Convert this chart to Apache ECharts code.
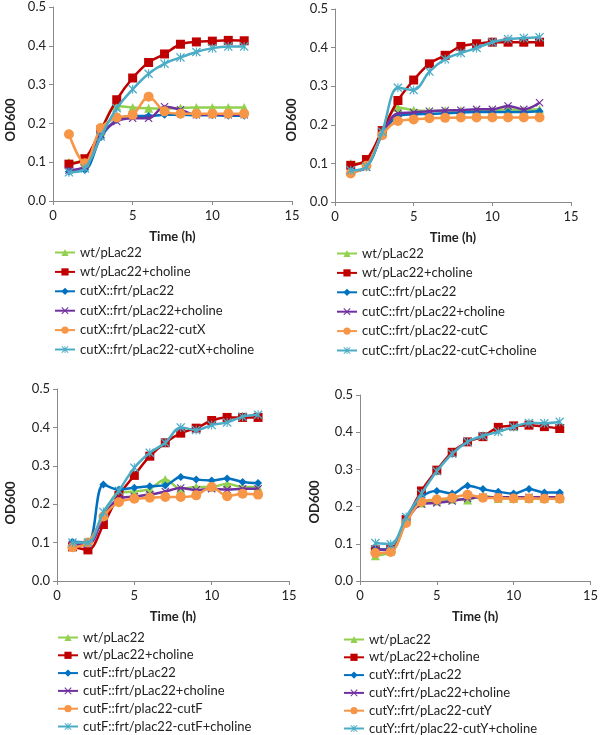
<!DOCTYPE html>
<html>
<head>
<meta charset="utf-8">
<script src="https://cdn.jsdelivr.net/npm/echarts@6/dist/echarts.min.js"></script>
<style>html,body{margin:0;padding:0;background:#fff}#c{width:601px;height:735px}</style>
</head>
<body>
<div id="c"></div>
<script>
// ---- data ----
const hoursA = [1,2,3,4,5,6,7,8,9,10,11,12];
const hoursB = [1,2,3,4,5,6,7,8,9,10,11,12,13];

const namesX = ['wt/pLac22','wt/pLac22+choline','cutX::frt/pLac22','cutX::frt/pLac22+choline','cutX::frt/pLac22-cutX','cutX::frt/pLac22-cutX+choline'];
const namesC = ['wt/pLac22','wt/pLac22+choline','cutC::frt/pLac22','cutC::frt/pLac22+choline','cutC::frt/pLac22-cutC','cutC::frt/pLac22-cutC+choline'];
const namesF = ['wt/pLac22','wt/pLac22+choline','cutF::frt/pLac22','cutF::frt/pLac22+choline','cutF::frt/plac22-cutF','cutF::frt/plac22-cutF+choline'];
const namesY = ['wt/pLac22','wt/pLac22+choline','cutY::frt/pLac22','cutY::frt/pLac22+choline','cutY::frt/pLac22-cutY','cutY::frt/plac22-cutY+choline'];

// panel cutX (12 h)
const x_wt        = [0.100,0.102,0.180,0.245,0.241,0.239,0.238,0.240,0.241,0.241,0.241,0.241];
const x_wtChol    = [0.095,0.109,0.183,0.261,0.317,0.357,0.379,0.404,0.410,0.412,0.414,0.413];
const x_mut       = [0.076,0.080,0.164,0.209,0.219,0.219,0.222,0.222,0.221,0.221,0.220,0.220];
const x_mutChol   = [0.080,0.090,0.170,0.205,0.213,0.213,0.243,0.235,0.222,0.222,0.222,0.222];
const x_comp      = [0.172,0.097,0.188,0.215,0.222,0.269,0.231,0.225,0.225,0.225,0.225,0.225];
const x_compChol  = [0.074,0.084,0.166,0.239,0.288,0.328,0.354,0.370,0.384,0.394,0.398,0.398];

// panel cutC (13 h)
const c_wt        = [0.100,0.100,0.180,0.245,0.238,0.236,0.237,0.237,0.238,0.238,0.240,0.238,0.240];
const c_wtChol    = [0.095,0.110,0.185,0.263,0.316,0.358,0.380,0.403,0.410,0.414,0.414,0.414,0.414];
const c_mut       = [0.080,0.090,0.175,0.222,0.227,0.228,0.230,0.232,0.233,0.233,0.233,0.233,0.235];
const c_mutChol   = [0.080,0.090,0.175,0.230,0.232,0.235,0.237,0.238,0.240,0.240,0.249,0.240,0.257];
const c_comp      = [0.074,0.094,0.173,0.210,0.214,0.217,0.218,0.219,0.219,0.219,0.219,0.219,0.219];
const c_compChol  = [0.082,0.091,0.182,0.296,0.290,0.338,0.370,0.386,0.399,0.414,0.422,0.425,0.427];

// panel cutF (13 h)
const f_wt        = [0.095,0.100,0.170,0.230,0.233,0.240,0.264,0.240,0.245,0.245,0.253,0.245,0.245];
const f_wtChol    = [0.089,0.081,0.147,0.223,0.275,0.325,0.360,0.385,0.398,0.418,0.426,0.426,0.426];
const f_mut       = [0.102,0.100,0.251,0.238,0.243,0.247,0.249,0.271,0.264,0.262,0.267,0.258,0.255];
const f_mutChol   = [0.095,0.095,0.165,0.215,0.220,0.225,0.233,0.242,0.237,0.240,0.238,0.240,0.240];
const f_comp      = [0.088,0.100,0.168,0.205,0.214,0.217,0.219,0.219,0.223,0.245,0.221,0.227,0.225];
const f_compChol  = [0.100,0.100,0.180,0.235,0.295,0.334,0.360,0.400,0.393,0.406,0.413,0.428,0.433];

// panel cutY (13 h)
const y_wt        = [0.068,0.080,0.160,0.210,0.215,0.220,0.218,0.230,0.222,0.222,0.222,0.222,0.222];
const y_wtChol    = [0.084,0.085,0.165,0.242,0.298,0.346,0.374,0.388,0.413,0.417,0.419,0.415,0.410];
const y_mut       = [0.085,0.085,0.160,0.225,0.242,0.235,0.256,0.247,0.240,0.235,0.247,0.238,0.238];
const y_mutChol   = [0.085,0.083,0.160,0.207,0.210,0.215,0.222,0.225,0.225,0.225,0.225,0.225,0.225];
const y_comp      = [0.075,0.078,0.156,0.213,0.219,0.224,0.232,0.224,0.223,0.222,0.222,0.221,0.221];
const y_compChol  = [0.102,0.099,0.172,0.235,0.295,0.342,0.374,0.390,0.401,0.414,0.425,0.424,0.428];

const yTicks = ['0.0','0.1','0.2','0.3','0.4','0.5'];

// ---- styling ----
const FONT = 'Lato';
const colors = ['#92D050','#C00000','#0070C0','#7030A0','#F79646','#4BACC6'];
const xSym = 'path://M0,1 L1,0 L5,4 L9,0 L10,1 L6,5 L10,9 L9,10 L5,6 L1,10 L0,9 L4,5 Z';
const starSym = 'path://M0,1 L1,0 L5,4 L9,0 L10,1 L6,5 L10,9 L9,10 L5,6 L1,10 L0,9 L4,5 Z M4.4,0 L5.6,0 L5.6,10 L4.4,10 Z';
const symbols = ['triangle','rect','diamond',xSym,'circle',starSym];
const symSizes = [9,9,8,8,10,9];

const panels = [
  {names:namesX, hours:hoursA, data:[x_wt,x_wtChol,x_mut,x_mutChol,x_comp,x_compChol],
   grid:{left:53,top:7,width:239,height:194}, legend:{left:54,top:246}, gap:6.4, title:[11,120]},
  {names:namesC, hours:hoursB, data:[c_wt,c_wtChol,c_mut,c_mutChol,c_comp,c_compChol],
   grid:{left:335,top:9,width:236,height:193}, legend:{left:336,top:247}, gap:6.4, title:[292,120]},
  {names:namesF, hours:hoursB, data:[f_wt,f_wtChol,f_mut,f_mutChol,f_comp,f_compChol],
   grid:{left:57,top:389,width:232,height:192}, legend:{left:57,top:631}, gap:4.8, title:[11,503]},
  {names:namesY, hours:hoursB, data:[y_wt,y_wtChol,y_mut,y_mutChol,y_comp,y_compChol],
   grid:{left:360,top:395,width:238,height:186}, legend:{left:343,top:633}, gap:4.8, title:[315,502]}
];

const grids = [], xAxes = [], yAxes = [], series = [], legends = [], graphics = [];
panels.forEach((p, i) => {
  grids.push(Object.assign({containLabel:false}, p.grid));
  xAxes.push({
    type:'value', gridIndex:i, min:0, max:15, interval:5,
    name:'Time (h)', nameLocation:'middle', nameGap:29,
    nameTextStyle:{fontFamily:FONT, fontWeight:'bold', fontSize:13, color:'#222'},
    axisLine:{show:true, onZero:false, lineStyle:{color:'#8a8a8a', width:1}},
    axisTick:{show:true, length:4, lineStyle:{color:'#8a8a8a'}},
    axisLabel:{fontFamily:FONT, fontSize:13, color:'#222', margin:8},
    splitLine:{show:false}
  });
  yAxes.push({
    type:'value', gridIndex:i, min:0, max:0.5, interval:0.1,
    axisLine:{show:true, lineStyle:{color:'#8a8a8a', width:1}},
    axisTick:{show:true, length:4, lineStyle:{color:'#8a8a8a'}},
    axisLabel:{fontFamily:FONT, fontSize:13, color:'#222', margin:7,
      formatter:(v)=>yTicks[Math.round(v*10)]},
    splitLine:{show:false}
  });
  p.data.forEach((vals, k) => {
    series.push({
      type:'line', name:p.names[k], xAxisIndex:i, yAxisIndex:i,
      data:p.hours.map((h, j) => [h, vals[j]]),
      smooth:0.35, symbol:symbols[k], symbolSize:symSizes[k],
      color:colors[k],
      lineStyle:{width:2.5, color:colors[k]},
      itemStyle:{color:colors[k]},
      z:2+k, animation:false
    });
  });
  legends.push({
    orient:'vertical', left:p.legend.left, top:p.legend.top,
    itemWidth:20, itemHeight:9, itemGap:p.gap, padding:0,
    data:p.names,
    textStyle:{fontFamily:FONT, fontSize:13, color:'#222', lineHeight:13},
    selectedMode:false
  });
  graphics.push({
    type:'text', x:p.title[0], y:p.title[1], rotation:Math.PI/2,
    style:{text:'OD600', fontFamily:FONT, fontWeight:'bold', fontSize:13, fill:'#222',
      align:'center', verticalAlign:'middle'}
  });
});

const chart = echarts.init(document.getElementById('c'), null, {renderer:'canvas'});
chart.setOption({
  backgroundColor:'#ffffff',
  animation:false,
  grid:grids, xAxis:xAxes, yAxis:yAxes, series:series,
  legend:legends, graphic:graphics
});
</script>
</body>
</html>
